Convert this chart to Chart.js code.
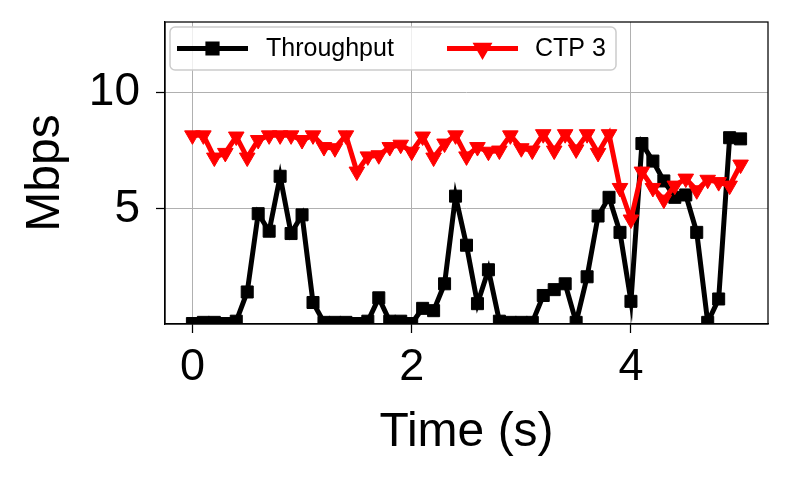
<!DOCTYPE html>
<html>
<head>
<meta charset="utf-8">
<script src="https://cdn.jsdelivr.net/npm/chart.js@4.4.1/dist/chart.umd.min.js"></script>
<style>
  body { margin: 0; background: #fff; }
</style>
</head>
<body>
<canvas id="chart" width="792" height="480"></canvas>
<script>
// time axis (s), one sample every 0.1 s
const times = [0.0,0.1,0.2,0.3,0.4,0.5,0.6,0.7,0.8,0.9,1.0,1.1,1.2,1.3,1.4,1.5,1.6,1.7,1.8,1.9,
  2.0,2.1,2.2,2.3,2.4,2.5,2.6,2.7,2.8,2.9,3.0,3.1,3.2,3.3,3.4,3.5,3.6,3.7,3.8,3.9,
  4.0,4.1,4.2,4.3,4.4,4.5,4.6,4.7,4.8,4.9,5.0];

const throughput = [0.1,0.15,0.15,0.1,0.2,1.45,4.8,4.05,6.4,3.95,4.75,1.0,0.15,0.15,0.15,0.1,0.2,1.2,0.2,0.2,
  0.1,0.75,0.65,1.8,5.55,3.45,0.95,2.4,0.2,0.15,0.15,0.15,1.3,1.55,1.8,0.15,2.1,4.7,5.5,4.0,
  1.05,7.8,7.05,6.2,5.5,5.6,4.0,0.15,1.15,8.05,8.0];

const ctp3 = [8.15,8.15,7.2,7.4,8.1,7.2,7.95,8.15,8.15,8.15,7.95,8.15,7.65,7.6,8.15,6.6,7.25,7.3,7.65,7.75,
  7.45,8.1,7.2,7.8,8.15,7.25,7.65,7.45,7.5,8.15,7.6,7.5,8.2,7.5,8.2,7.55,8.2,7.4,8.2,5.9,
  4.55,6.6,5.9,5.4,6.0,6.3,5.8,6.25,6.15,6.0,6.9];

const xTicks = [0, 2, 4];
const yTicks = [5, 10];

const FONT = "'Liberation Sans', Arial, Helvetica, sans-serif";

const toPoints = (ys) => ys.map((y, i) => ({ x: times[i], y: y }));

// frame on all four sides, like matplotlib
const framePlugin = {
  id: 'frame',
  afterDatasetsDraw(chart) {
    const { ctx, chartArea: a } = chart;
    ctx.save();
    ctx.strokeStyle = '#000';
    ctx.lineWidth = 1.25;
    ctx.strokeRect(a.left, a.top, a.right - a.left, a.bottom - a.top);
    ctx.restore();
  }
};

// legend box with line + marker samples
const legendPlugin = {
  id: 'mplLegend',
  afterDraw(chart) {
    const ctx = chart.ctx;
    const bx = 170, by = 27, bw = 446, bh = 43, r = 5;
    ctx.save();
    ctx.beginPath();
    ctx.moveTo(bx + r, by);
    ctx.arcTo(bx + bw, by, bx + bw, by + bh, r);
    ctx.arcTo(bx + bw, by + bh, bx, by + bh, r);
    ctx.arcTo(bx, by + bh, bx, by, r);
    ctx.arcTo(bx, by, bx + bw, by, r);
    ctx.closePath();
    ctx.fillStyle = 'rgba(255,255,255,0.8)';
    ctx.fill();
    ctx.strokeStyle = '#cccccc';
    ctx.lineWidth = 1.5;
    ctx.stroke();

    const cy = by + bh / 2;
    const items = [
      { ds: chart.data.datasets[0], x0: 177, x1: 248, tx: 266, rad: 6.5 },
      { ds: chart.data.datasets[1], x0: 447, x1: 518, tx: 535, rad: 6.5 }
    ];
    items.forEach(it => {
      ctx.strokeStyle = it.ds.borderColor;
      ctx.lineWidth = 5;
      ctx.beginPath();
      ctx.moveTo(it.x0, cy);
      ctx.lineTo(it.x1, cy);
      ctx.stroke();
      Chart.helpers.drawPoint(ctx, {
        pointStyle: it.ds.pointStyle,
        rotation: it.ds.pointRotation || 0,
        radius: it.rad,
        borderWidth: 1
      }, (it.x0 + it.x1) / 2, cy);
      ctx.fillStyle = it.ds.pointBackgroundColor;
      ctx.fill();
      ctx.fillStyle = '#000';
      ctx.font = '25px ' + FONT;
      ctx.textBaseline = 'middle';
      ctx.textAlign = 'left';
      ctx.fillText(it.ds.label, it.tx, cy + 1);
    });
    ctx.restore();
  }
};

new Chart(document.getElementById('chart'), {
  type: 'line',
  data: {
    datasets: [{
      label: 'Throughput',
      data: toPoints(throughput),
      borderColor: '#000000',
      backgroundColor: '#000000',
      pointBackgroundColor: '#000000',
      pointBorderColor: '#000000',
      borderWidth: 5,
      pointStyle: 'rect',
      pointRadius: 8.5,
      pointBorderWidth: 1,
      tension: 0,
      order: 1
    }, {
      label: 'CTP 3',
      data: toPoints(ctp3),
      borderColor: '#ff0000',
      backgroundColor: '#ff0000',
      pointBackgroundColor: '#ff0000',
      pointBorderColor: '#ff0000',
      borderWidth: 5,
      pointStyle: 'triangle',
      pointRotation: 180,
      pointRadius: 9,
      pointBorderWidth: 1,
      tension: 0,
      order: 0
    }]
  },
  options: {
    responsive: false,
    animation: false,
    layout: { padding: { left: 0, top: 22, right: 24, bottom: 0 } },
    plugins: {
      legend: { display: false },
      tooltip: { enabled: false }
    },
    scales: {
      x: {
        type: 'linear',
        min: -0.25,
        max: 5.25,
        afterBuildTicks: (s) => { s.ticks = xTicks.map(v => ({ value: v })); },
        afterFit: (s) => { s.height = 156; s.paddingLeft = 0; s.paddingRight = 0; },
        grid: { color: '#b0b0b0', lineWidth: 1, tickLength: 9, tickColor: '#000', tickWidth: 1.25 },
        border: { color: '#000', width: 1.25 },
        ticks: { color: '#000', font: { family: FONT, size: 45 }, padding: 8, maxRotation: 0 },
        title: { display: true, text: 'Time (s)', color: '#000', font: { family: FONT, size: 48 }, padding: { top: 0, bottom: 18 } }
      },
      y: {
        type: 'linear',
        min: 0.08,
        max: 13,
        afterBuildTicks: (s) => { s.ticks = yTicks.map(v => ({ value: v })); },
        afterFit: (s) => { s.width = 165; s.paddingTop = 0; s.paddingBottom = 0; },
        grid: { color: '#b0b0b0', lineWidth: 1, tickLength: 9, tickColor: '#000', tickWidth: 1.25 },
        border: { color: '#000', width: 1.25 },
        ticks: { color: '#000', font: { family: FONT, size: 46 }, padding: 16 },
        title: { display: true, text: 'Mbps', color: '#000', font: { family: FONT, size: 48 }, padding: { top: 17, bottom: 0 } }
      }
    }
  },
  plugins: [framePlugin, legendPlugin]
});
</script>
</body>
</html>
